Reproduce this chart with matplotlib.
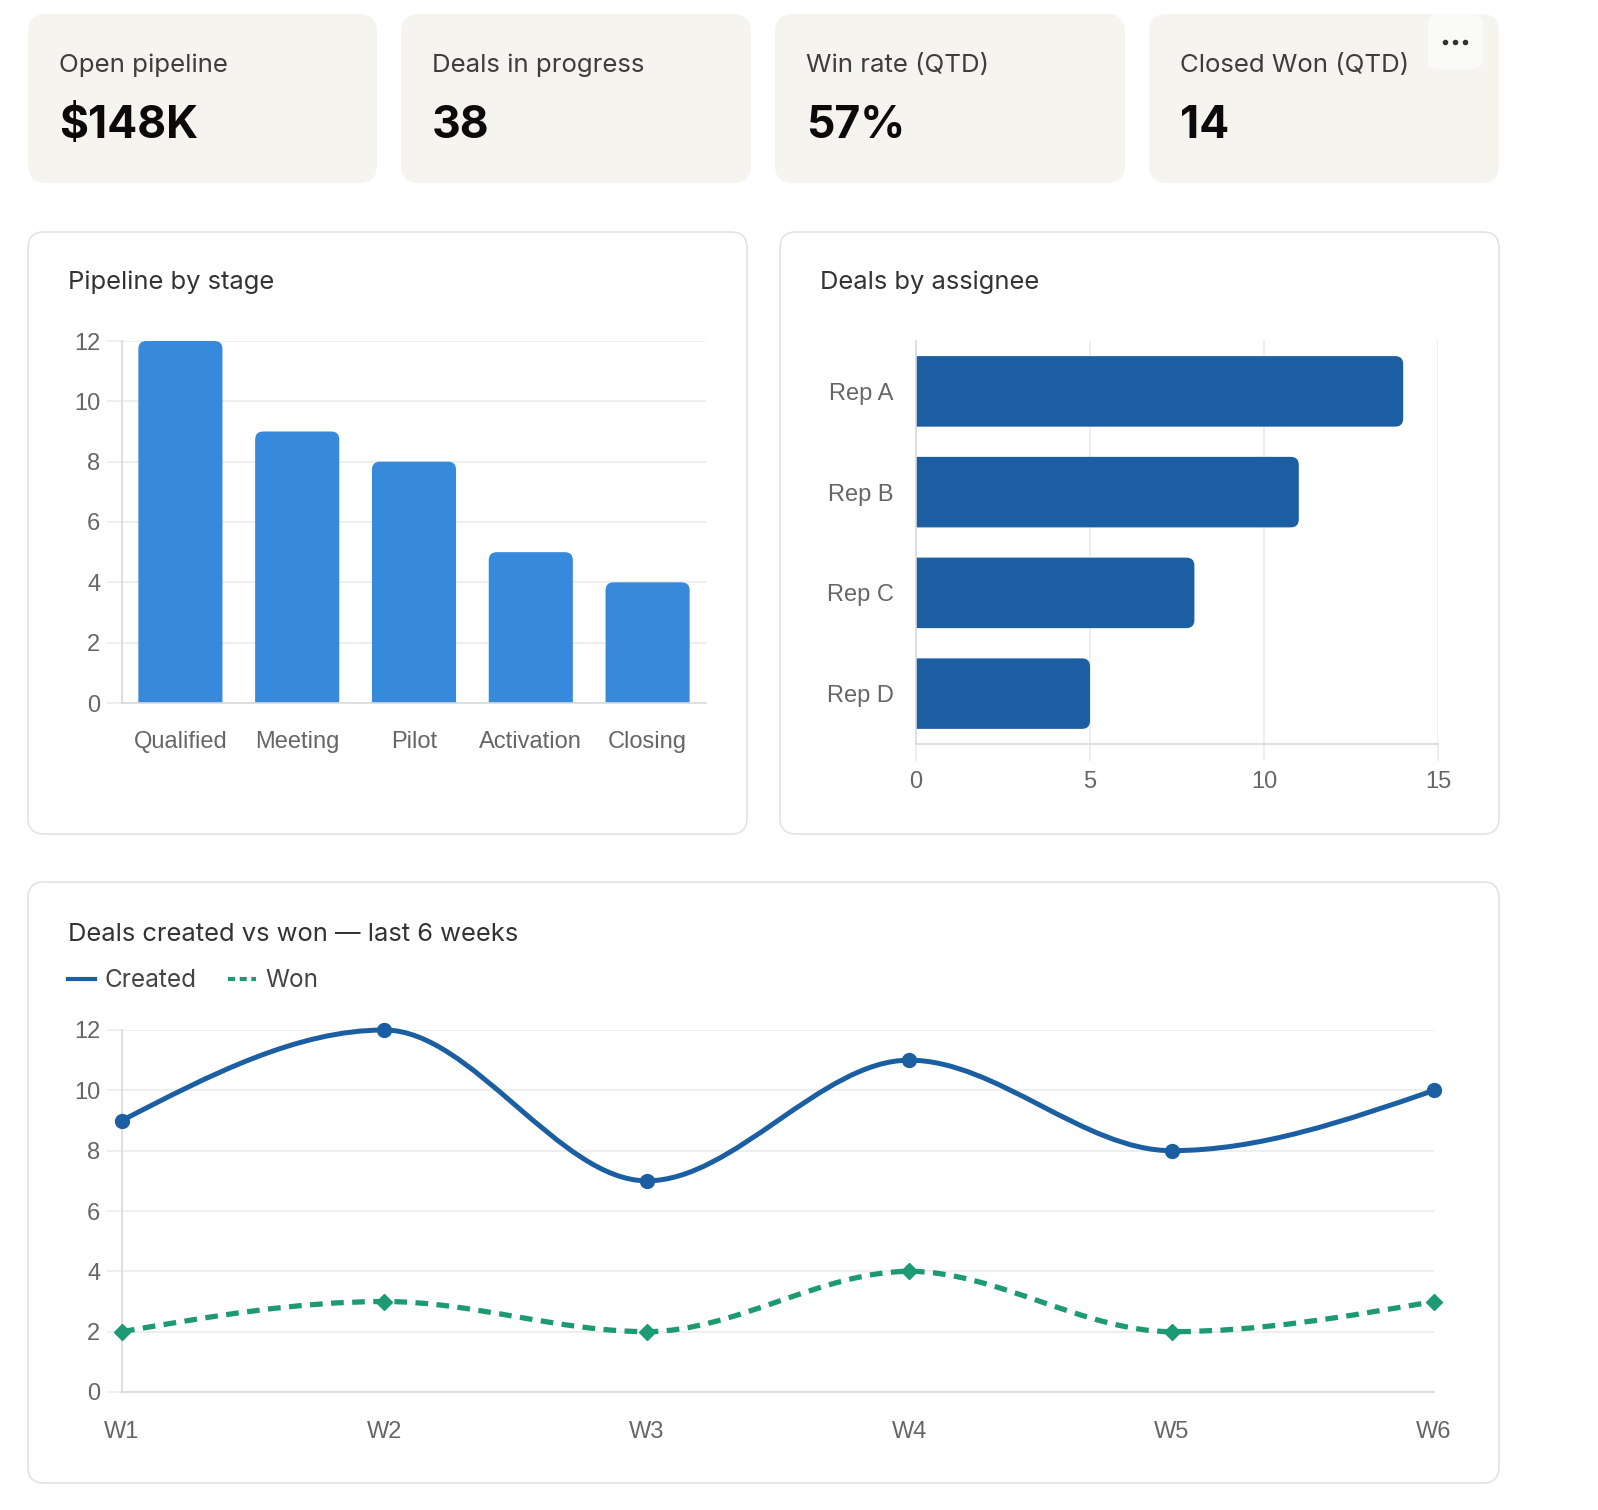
import matplotlib
matplotlib.use("Agg")
import matplotlib.pyplot as plt
import numpy as np
from matplotlib.patches import FancyBboxPatch, PathPatch
from matplotlib.path import Path
from matplotlib.lines import Line2D

W, H = 1598, 1510

# KPI cards
kpi_labels = ["Open pipeline", "Deals in progress", "Win rate (QTD)", "Closed Won (QTD)"]
kpi_values = ["$148K", "38", "57%", "14"]

# Pipeline by stage
stages = ["Qualified", "Meeting", "Pilot", "Activation", "Closing"]
stage_counts = [12, 9, 8, 5, 4]

# Deals by assignee
reps = ["Rep A", "Rep B", "Rep C", "Rep D"]
rep_deals = [14, 11, 8, 5]

# Deals created vs won
weeks = ["W1", "W2", "W3", "W4", "W5", "W6"]
created = [9, 12, 7, 11, 8, 10]
won = [2, 3, 2, 4, 2, 3]

BAR_BLUE = "#3689db"
DARK_BLUE = "#1b5fa2"
GREEN = "#1e9a72"
GRID = "#ebebeb"
AXIS = "#d9d9d9"
TICK = "#666666"
TITLE_FONT = ["Inter", "DejaVu Sans"]
TICK_FONT = ["Liberation Sans", "DejaVu Sans"]

fig = plt.figure(figsize=(W / 100, H / 100), dpi=100, facecolor="white")

bg = fig.add_axes([0, 0, 1, 1], zorder=0)
bg.set_xlim(0, W)
bg.set_ylim(H, 0)
bg.axis("off")


def place(x0, y0, x1, y1):
    ax = fig.add_axes([x0 / W, 1 - y1 / H, (x1 - x0) / W, (y1 - y0) / H], zorder=2)
    ax.set_facecolor("none")
    return ax


def box(x0, y0, x1, y1, r, fc, ec="none", lw=0):
    bg.add_patch(FancyBboxPatch((x0, y0), x1 - x0, y1 - y0,
                                boxstyle=f"round,pad=0,rounding_size={r}",
                                fc=fc, ec=ec, lw=lw))


def rounded(ax, x0, y0, w, h, r_px, color):
    xl, yl = ax.get_xlim(), ax.get_ylim()
    ux = abs(xl[1] - xl[0]) / ax.bbox.width
    uy = abs(yl[1] - yl[0]) / ax.bbox.height
    ax.add_patch(FancyBboxPatch((x0, y0), w, h,
                                boxstyle=f"round,pad=0,rounding_size={r_px * ux}",
                                mutation_aspect=uy / ux, fc=color, ec="none", zorder=2))
    return ux, uy


def style_axes(ax):
    for s in ["top", "right"]:
        ax.spines[s].set_visible(False)
    for s in ["left", "bottom"]:
        ax.spines[s].set_color(AXIS)
        ax.spines[s].set_linewidth(1.2)
    ax.set_axisbelow(True)
    for lab in ax.get_xticklabels() + ax.get_yticklabels():
        lab.set_fontfamily(TICK_FONT)
        lab.set_fontsize(17)
        lab.set_color(TICK)


def monotone_path(xs, ys):
    xs = np.asarray(xs, float)
    ys = np.asarray(ys, float)
    h = np.diff(xs)
    s = np.diff(ys) / h
    n = len(xs)
    t = np.zeros(n)
    for i in range(1, n - 1):
        p = (s[i - 1] * h[i] + s[i] * h[i - 1]) / (h[i - 1] + h[i])
        sg = (1 if s[i - 1] >= 0 else -1) + (1 if s[i] >= 0 else -1)
        t[i] = sg * min(abs(s[i - 1]), abs(s[i]), 0.5 * abs(p))
    t[0] = (3 * s[0] - t[1]) / 2
    t[-1] = (3 * s[-1] - t[-2]) / 2
    verts = [(xs[0], ys[0])]
    codes = [Path.MOVETO]
    for i in range(n - 1):
        d = h[i] / 3
        verts += [(xs[i] + d, ys[i] + d * t[i]),
                  (xs[i + 1] - d, ys[i + 1] - d * t[i + 1]),
                  (xs[i + 1], ys[i + 1])]
        codes += [Path.CURVE4] * 3
    return Path(verts, codes)


# --- KPI cards ---
card_x = [(28, 377), (401, 751), (775, 1125), (1149, 1499)]
for (x0, x1), lab, val in zip(card_x, kpi_labels, kpi_values):
    box(x0, 14, x1, 183, 18, "#f5f4ef")
    bg.text(x0 + 31, 72, lab, fontsize=18.6, color="#3d3d3d", family=TITLE_FONT, va="baseline")
    bg.text(x0 + 31, 138, val, fontsize=32, color="#0a0a0a", family=TITLE_FONT,
            weight="bold", va="baseline")

# menu button
box(1428, 14, 1483, 69, 10, "#fafaf7")
bg.scatter([1445, 1455, 1465], [42, 42, 42], s=9, color="#333333", zorder=3)

# --- panels ---
box(28, 232, 747, 834, 16, "white", "#e3e3e3", 1.2)
box(780, 232, 1499, 834, 16, "white", "#e3e3e3", 1.2)
box(28, 882, 1499, 1483, 16, "white", "#e3e3e3", 1.2)

bg.text(68, 289, "Pipeline by stage", fontsize=18.4, color="#333333", family=TITLE_FONT, va="baseline")
bg.text(820, 289, "Deals by assignee", fontsize=18.4, color="#333333", family=TITLE_FONT, va="baseline")
bg.text(68, 941, "Deals created vs won \u2014 last 6 weeks", fontsize=18.4, color="#333333",
        family=TITLE_FONT, va="baseline")

# legend
bg.add_line(Line2D([68, 95], [979, 979], color=DARK_BLUE, lw=3))
bg.text(104, 987, "Created", fontsize=17.5, color="#444444", family=TITLE_FONT, va="baseline")
bg.add_line(Line2D([228, 256], [979, 979], color=GREEN, lw=3, dashes=(1.7, 1.1)))
bg.text(265, 987, "Won", fontsize=17.5, color="#444444", family=TITLE_FONT, va="baseline")

# --- Pipeline by stage ---
ax1 = place(122, 341, 706, 703)
ax1.set_xlim(-0.5, len(stages) - 0.5)
ax1.set_ylim(0, 12)
ax1.set_yticks(range(0, 13, 2))
ax1.set_xticks(range(len(stages)))
ax1.set_xticklabels(stages)
ax1.yaxis.grid(True, color=GRID, lw=1.2)
ax1.tick_params(axis="y", length=11, width=1.2, color=GRID, pad=4.5)
ax1.tick_params(axis="x", length=0, pad=20)
style_axes(ax1)
for i, v in enumerate(stage_counts):
    _, uy = rounded(ax1, i - 0.36, 0, 0.72, v, 8, BAR_BLUE)
for p in ax1.patches:
    p.set_y(-8 * uy)
    p.set_height(p.get_height() + 8 * uy)

# --- Deals by assignee ---
ax2 = place(916, 341, 1438, 744)
ax2.set_xlim(0, 15)
ax2.set_ylim(len(reps) - 0.5, -0.5)
ax2.set_xticks([0, 5, 10, 15])
ax2.set_yticks(range(len(reps)))
ax2.set_yticklabels(reps)
ax2.xaxis.grid(True, color=GRID, lw=1.2)
ax2.tick_params(axis="x", length=12, width=1.2, color=GRID, pad=7.5)
ax2.tick_params(axis="y", length=0, pad=16)
style_axes(ax2)
for i, v in enumerate(rep_deals):
    ux, _ = rounded(ax2, 0, i - 0.35, v, 0.7, 8, DARK_BLUE)
for p in ax2.patches:
    p.set_x(-8 * ux)
    p.set_width(p.get_width() + 8 * ux)

# --- Deals created vs won ---
ax3 = place(122, 1030, 1434, 1392)
ax3.set_xlim(0, len(weeks) - 1)
ax3.set_ylim(0, 12)
ax3.set_yticks(range(0, 13, 2))
ax3.set_xticks(range(len(weeks)))
ax3.set_xticklabels(weeks)
ax3.yaxis.grid(True, color=GRID, lw=1.2)
ax3.tick_params(axis="y", length=11, width=1.2, color=GRID, pad=4.5)
ax3.tick_params(axis="x", length=0, pad=21)
style_axes(ax3)
xs = np.arange(len(weeks))
ax3.add_patch(PathPatch(monotone_path(xs, created), fill=False, ec=DARK_BLUE, lw=3.6,
                        capstyle="round", zorder=3, clip_on=False))
ax3.add_patch(PathPatch(monotone_path(xs, won), fill=False, ec=GREEN, lw=3.8,
                        linestyle=(0, (2.4, 1.6)), zorder=3, clip_on=False))
ax3.plot(xs, created, "o", ms=10, color=DARK_BLUE, zorder=4, clip_on=False)
ax3.plot(xs, won, "D", ms=8, color=GREEN, zorder=4, clip_on=False)

fig.savefig("out.png", dpi=100, facecolor="white")
